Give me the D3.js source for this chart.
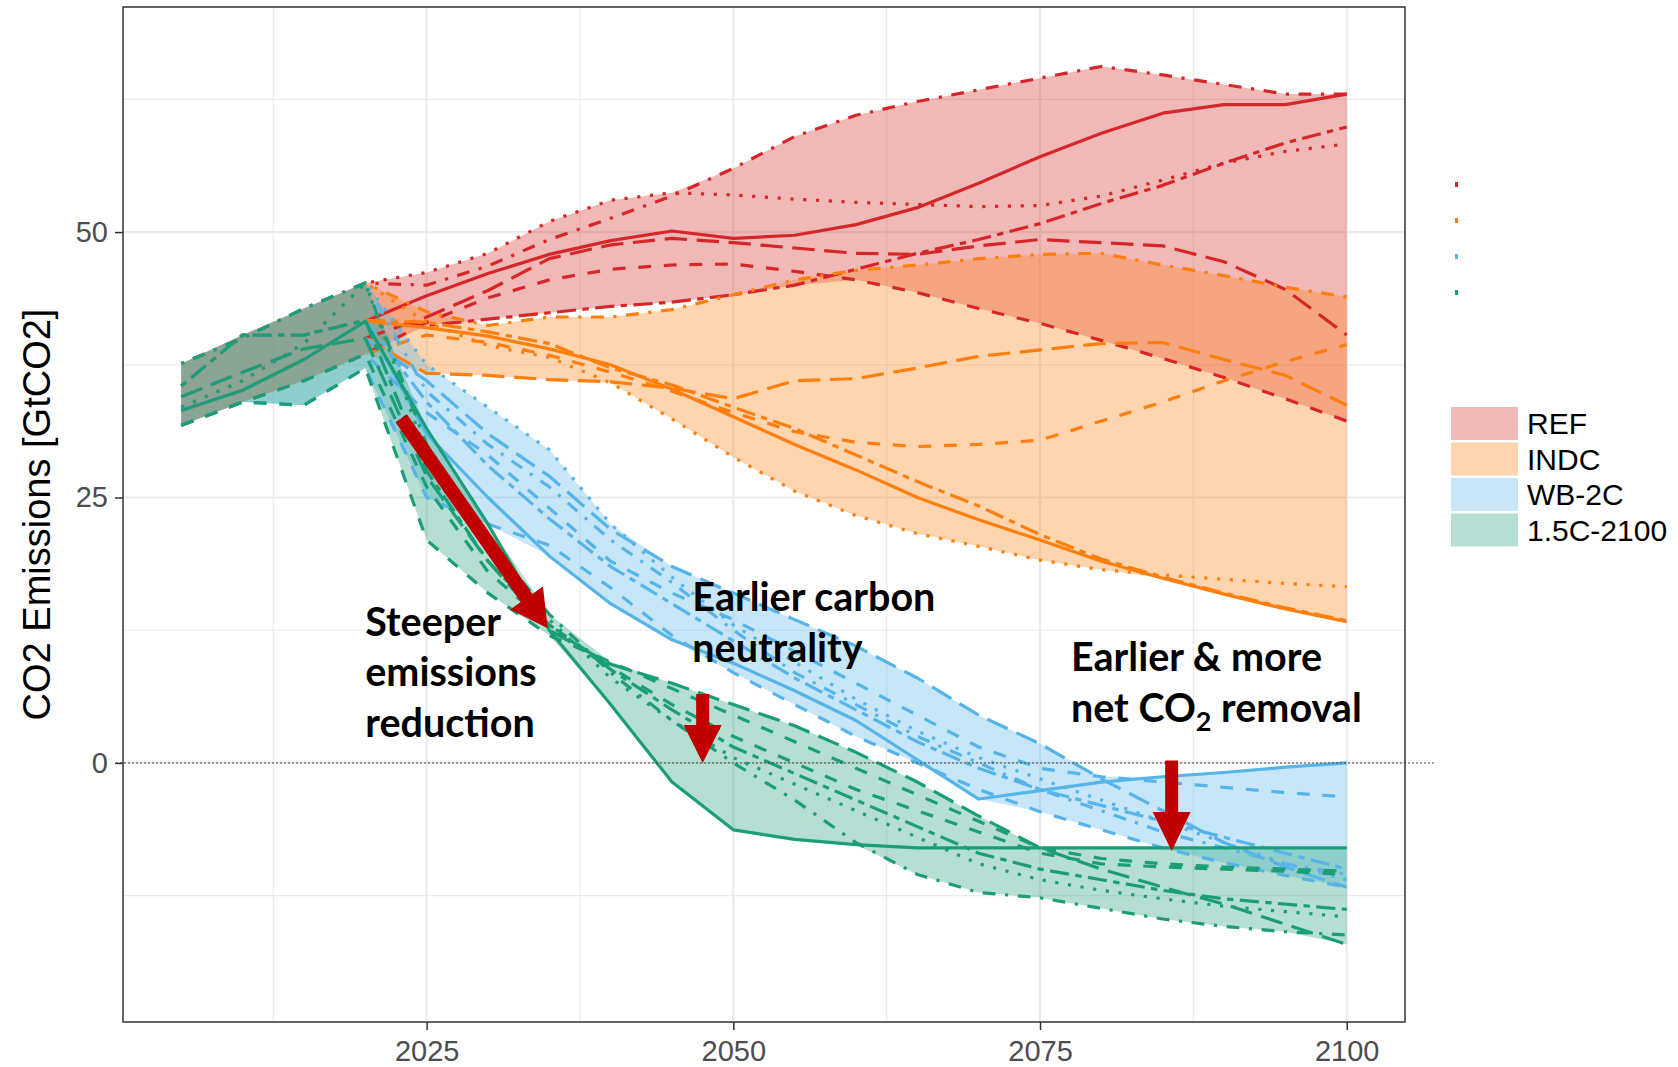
<!DOCTYPE html>
<html><head><meta charset="utf-8">
<script src="https://cdn.jsdelivr.net/npm/d3@7"></script>
<style>body{margin:0;background:#fff;} svg{display:block;}</style>
</head><body>
<svg id="chart" width="1678" height="1067"></svg>
<script>
// ---------------- DATA ----------------
const histYears = [2005, 2010, 2015, 2020];
const projYears = [2025, 2030, 2035, 2040, 2045, 2050, 2055, 2060, 2065, 2070, 2075, 2080, 2085, 2090, 2095, 2100];

const scenarios = ["REF", "INDC", "WB-2C", "1.5C-2100"];
const models = ["A", "B", "C", "D", "E", "F", "G"];

// historical values per model (2005, 2010, 2015, 2020)
const hist_A = [33.2, 35.1, 38.0, 41.6];
const hist_B = [31.8, 34.0, 36.0, 38.5];
const hist_C = [33.5, 36.0, 39.5, 45.2];
const hist_D = [37.6, 40.0, 42.8, 45.2];
const hist_E = [34.5, 36.8, 39.0, 40.0];
const hist_F = [35.5, 40.3, 40.3, 41.7];
const hist_G = [31.8, 34.0, 33.7, 37.2];

// REF
const REF_A = [44.0, 46.1, 47.9, 49.2, 50.1, 49.4, 49.7, 50.7, 52.3, 54.6, 57.1, 59.3, 61.2, 62.0, 62.0, 63.0];
const REF_B = [41.5, 43.8, 45.5, 46.5, 46.9, 47.0, 46.3, 45.5, 44.3, 42.8, 41.4, 39.8, 38.1, 36.3, 34.3, 32.2];
const REF_C = [46.2, 48.0, 51.0, 53.0, 53.7, 53.5, 53.1, 52.8, 52.6, 52.4, 52.5, 53.4, 54.9, 56.5, 57.6, 58.3];
const REF_D = [45.0, 46.8, 49.3, 51.3, 53.4, 56.0, 59.0, 61.0, 62.3, 63.4, 64.5, 65.6, 64.8, 63.9, 63.0, 63.0];
const REF_E = [42.0, 44.5, 47.5, 48.8, 49.4, 49.0, 48.5, 48.0, 47.9, 48.7, 49.3, 49.0, 48.7, 47.2, 44.6, 40.3];
const REF_F = [41.2, 41.8, 42.4, 43.0, 43.4, 44.1, 45.0, 46.5, 48.0, 49.3, 50.8, 52.7, 54.4, 56.5, 58.4, 59.9];

// INDC
const INDC_A = [41.0, 40.2, 39.0, 37.5, 35.2, 32.6, 30.0, 27.6, 25.0, 22.9, 21.0, 19.0, 17.4, 15.9, 14.5, 13.3];
const INDC_B = [40.3, 39.6, 38.4, 36.8, 35.0, 33.0, 31.2, 30.2, 29.8, 30.0, 30.4, 32.2, 34.0, 36.0, 37.8, 39.4];
const INDC_C = [41.5, 39.3, 38.2, 35.8, 32.4, 28.8, 25.6, 23.3, 21.6, 20.4, 19.1, 18.2, 17.7, 17.3, 16.9, 16.6];
const INDC_D = [42.5, 41.2, 42.0, 42.0, 42.7, 44.1, 45.5, 46.4, 46.9, 47.5, 47.9, 48.0, 46.9, 45.9, 44.8, 43.9];
const INDC_E = [36.7, 36.5, 36.1, 35.9, 35.3, 34.3, 36.0, 36.2, 37.2, 38.3, 38.9, 39.5, 39.6, 38.0, 36.5, 33.7];
const INDC_F = [41.5, 40.6, 39.5, 37.2, 35.6, 33.5, 31.5, 29.0, 26.5, 24.2, 21.5, 19.2, 17.5, 16.0, 14.6, 13.4];

// WB-2C
const WB_A = [31.0, 25.0, 19.5, 15.0, 11.6, 9.4, 6.8, 4.0, 0.3, -3.4, -2.6, -1.8, -1.3, -0.9, -0.4, 0.0];
const WB_B = [33.0, 29.0, 24.0, 19.0, 16.0, 13.5, 10.5, 7.5, 4.5, 1.5, -0.5, -1.3, -1.8, -2.3, -2.8, -3.2];
const WB_C = [37.5, 33.5, 29.5, 22.5, 17.5, 13.0, 9.5, 6.0, 3.0, 0.5, -1.5, -3.5, -5.5, -7.5, -9.5, -11.0];
const WB_D = [35.0, 30.0, 26.0, 21.0, 17.0, 12.5, 8.5, 5.5, 2.5, 0.0, -2.5, -4.5, -6.5, -8.0, -9.5, -10.5];
const WB_E = [36.0, 31.0, 27.0, 22.0, 18.5, 16.0, 13.5, 11.0, 8.0, 4.5, 1.8, -1.5, -4.5, -7.5, -9.8, -11.7];
const WB_F = [34.0, 28.0, 23.0, 18.5, 15.0, 11.5, 8.0, 5.0, 2.0, -0.5, -2.5, -4.0, -5.5, -7.0, -8.5, -10.0];
const WB_G = [25.0, 22.5, 20.5, 16.5, 12.0, 8.5, 5.5, 2.5, 0.0, -2.5, -4.6, -6.3, -8.0, -9.4, -10.6, -11.7];

// 1.5C-2100
const C15_A = [31.5, 22.5, 12.5, 5.5, -1.8, -6.3, -7.2, -7.7, -8.0, -8.0, -8.0, -8.0, -8.0, -8.0, -8.0, -8.0];
const C15_B = [26.0, 18.0, 13.0, 9.0, 5.5, 2.5, 0.0, -2.5, -4.5, -6.5, -8.5, -9.5, -9.8, -10.0, -10.2, -10.5];
const C15_C = [29.0, 20.0, 13.5, 8.0, 4.0, 0.5, -2.0, -4.5, -7.0, -9.5, -11.0, -12.0, -12.8, -13.5, -14.0, -14.5];
const C15_D = [30.0, 21.0, 14.0, 8.5, 4.0, 0.0, -3.5, -7.5, -10.5, -12.2, -12.7, -13.7, -14.7, -15.4, -15.9, -16.2];
const C15_E = [27.0, 19.0, 12.5, 9.3, 7.5, 5.5, 3.5, 1.0, -1.8, -5.0, -8.0, -10.0, -11.7, -13.3, -15.2, -17.1];
const C15_F = [27.5, 19.0, 13.0, 8.8, 5.0, 1.5, -1.0, -3.5, -6.0, -8.5, -10.0, -11.0, -12.0, -12.8, -13.3, -13.8];
const C15_G = [21.0, 16.0, 12.0, 9.5, 7.0, 4.5, 2.0, -0.5, -3.0, -5.5, -8.0, -9.0, -9.5, -9.8, -10.0, -10.2];

// axes
const xTicks = [2025, 2050, 2075, 2100];
const xMinor = [2012.5, 2037.5, 2062.5, 2087.5];
const yTicks = [0, 25, 50];
const yMinor = [-12.5, 12.5, 37.5, 62.5];

// annotations (data coordinates)
const annoSteeper = {year: 2020.0, value: 11.96, lines: ["Steeper", "emissions", "reduction"]};
const annoNeutral = {year: 2046.66, value: 14.3, lines: ["Earlier carbon", "neutrality"]};
const annoRemoval = {year: 2077.52, value: 8.7, lines: ["Earlier & more", "net CO"]};
const arrowSteep = [[2022.93, 32.46], [2034.87, 12.68]];
const arrowNeutral = [[2047.5, 6.5], [2047.5, 0]];
const arrowRemoval = [[2085.73, 0.24], [2085.73, -8.3]];

// ---------------- STYLE ----------------
const scenarioColors = ["#d62728", "#ff7f0e", "#56b4e9", "#1b9e77"];
const fillOpacity = 0.33;
const LW = 3.2;
const dashes = {
  solid: null,
  dashed: [4, 4],
  dotted: [1, 3],
  dotdash: [1, 3, 4, 3],
  longdash: [7, 3],
  twodash: [2, 2, 6, 2]
};
const modelLinetype = {A: "solid", B: "dashed", C: "dotted", D: "dotdash", E: "longdash", F: "twodash", G: "dashed"};

const histMap = {A: hist_A, B: hist_B, C: hist_C, D: hist_D, E: hist_E, F: hist_F, G: hist_G};
const projMap = {
  "REF": {A: REF_A, B: REF_B, C: REF_C, D: REF_D, E: REF_E, F: REF_F},
  "INDC": {A: INDC_A, B: INDC_B, C: INDC_C, D: INDC_D, E: INDC_E, F: INDC_F},
  "WB-2C": {A: WB_A, B: WB_B, C: WB_C, D: WB_D, E: WB_E, F: WB_F, G: WB_G},
  "1.5C-2100": {A: C15_A, B: C15_B, C: C15_C, D: C15_D, E: C15_E, F: C15_F, G: C15_G}
};
const allYears = histYears.concat(projYears);

const scen = scenarios.map((name, i) => {
  const lines = models.filter(m => projMap[name][m]).map(m => ({
    model: m,
    lt: modelLinetype[m],
    pts: allYears.map((yr, k) => ({year: yr, value: k < histYears.length ? histMap[m][k] : projMap[name][m][k - histYears.length]}))
  }));
  const band = allYears.map((yr, k) => {
    const vals = lines.map(l => l.pts[k].value);
    return {year: yr, lo: d3.min(vals), hi: d3.max(vals)};
  });
  return {name, color: scenarioColors[i], lines, band};
});

// ---------------- LAYOUT ----------------
const panel = {left: 123, right: 1405, top: 7, bottom: 1022};
const x = d3.scaleLinear().domain([2000.25, 2104.75]).range([panel.left, panel.right]);
const y = d3.scaleLinear().domain([-24.4, 71.2]).range([panel.bottom, panel.top]);

const svg = d3.select("#chart");
svg.append("rect").attr("width", 1678).attr("height", 1067).attr("fill", "#fff");

const grid = svg.append("g");
grid.selectAll(".vmin").data(xMinor).join("line")
  .attr("x1", d => x(d)).attr("x2", d => x(d)).attr("y1", panel.top).attr("y2", panel.bottom)
  .attr("stroke", "#ebebeb").attr("stroke-width", 1.2);
grid.selectAll(".hmin").data(yMinor).join("line")
  .attr("y1", d => y(d)).attr("y2", d => y(d)).attr("x1", panel.left).attr("x2", panel.right)
  .attr("stroke", "#ebebeb").attr("stroke-width", 1.2);
grid.selectAll(".vmaj").data(xTicks).join("line")
  .attr("x1", d => x(d)).attr("x2", d => x(d)).attr("y1", panel.top).attr("y2", panel.bottom)
  .attr("stroke", "#ebebeb").attr("stroke-width", 2.2);
grid.selectAll(".hmaj").data(yTicks).join("line")
  .attr("y1", d => y(d)).attr("y2", d => y(d)).attr("x1", panel.left).attr("x2", panel.right)
  .attr("stroke", "#ebebeb").attr("stroke-width", 2.2);

// ribbons
const area = d3.area().x(d => x(d.year)).y0(d => y(d.lo)).y1(d => y(d.hi));
svg.append("g").selectAll("path").data(scen).join("path")
  .attr("d", d => area(d.band)).attr("fill", d => d.color).attr("fill-opacity", fillOpacity);

// lines
const line = d3.line().x(d => x(d.year)).y(d => y(d.value));
const lg = svg.append("g");
scen.forEach(s => {
  lg.append("g").selectAll("path").data(s.lines).join("path")
    .attr("d", d => line(d.pts))
    .attr("fill", "none")
    .attr("stroke", s.color)
    .attr("stroke-width", LW)
    .attr("stroke-linejoin", "round")
    .attr("stroke-linecap", "butt")
    .attr("stroke-dasharray", d => dashes[d.lt] ? dashes[d.lt].map(v => v * LW).join(",") : null);
});

// zero dotted line
svg.append("line")
  .attr("x1", panel.left - 7).attr("x2", panel.right + 29)
  .attr("y1", y(0)).attr("y2", y(0))
  .attr("stroke", "#444").attr("stroke-width", 1).attr("stroke-dasharray", "2,2");

// panel border
svg.append("rect").attr("x", panel.left).attr("y", panel.top)
  .attr("width", panel.right - panel.left).attr("height", panel.bottom - panel.top)
  .attr("fill", "none").attr("stroke", "#333").attr("stroke-width", 1.5);

// axes
const tickFont = "29px 'Liberation Sans', Arial, sans-serif";
svg.append("g").attr("transform", `translate(0,${panel.bottom})`)
  .call(d3.axisBottom(x).tickValues(xTicks).tickSize(8).tickPadding(10).tickFormat(d3.format("d")))
  .call(g => g.select(".domain").remove())
  .call(g => g.selectAll("line").attr("stroke", "#333").attr("stroke-width", 1.5))
  .call(g => g.selectAll("text").attr("fill", "#4d4d4d").style("font", tickFont));
svg.append("g").attr("transform", `translate(${panel.left},0)`)
  .call(d3.axisLeft(y).tickValues(yTicks).tickSize(8).tickPadding(7))
  .call(g => g.select(".domain").remove())
  .call(g => g.selectAll("line").attr("stroke", "#333").attr("stroke-width", 1.5))
  .call(g => g.selectAll("text").attr("fill", "#4d4d4d").style("font", tickFont));

svg.append("text")
  .attr("transform", `translate(50,${(panel.top + panel.bottom) / 2}) rotate(-90)`)
  .attr("text-anchor", "middle")
  .style("font", "38px 'Liberation Sans', Arial, sans-serif")
  .attr("fill", "#000")
  .text("CO2 Emissions [GtCO2]");

// legend: tiny linetype marks
const legMarks = svg.append("g");
legMarks.selectAll("rect").data(scen).join("rect")
  .attr("x", 1455).attr("y", (d, i) => 182 + i * 36)
  .attr("width", 3).attr("height", 5).attr("fill", d => d.color);

// legend: fill keys
const leg = svg.append("g").attr("transform", "translate(1451,407)");
const keys = leg.selectAll("g").data(scen).join("g").attr("transform", (d, i) => `translate(0,${i * 35.5})`);
keys.append("rect").attr("width", 67).attr("height", 33).attr("fill", d => d.color).attr("fill-opacity", fillOpacity);
keys.append("text").attr("x", 76).attr("y", 16.5).attr("dy", "0.36em")
  .style("font", "30px 'Liberation Sans', Arial, sans-serif").attr("fill", "#000")
  .text(d => d.name);

// arrows
function arrowPath(p0, p1, w, hl, hw) {
  const dx = p1[0] - p0[0], dy = p1[1] - p0[1];
  const L = Math.hypot(dx, dy), ux = dx / L, uy = dy / L, nx = -uy, ny = ux;
  const bx = p1[0] - ux * hl, by = p1[1] - uy * hl;
  const pts = [
    [p0[0] + nx * w / 2, p0[1] + ny * w / 2],
    [bx + nx * w / 2, by + ny * w / 2],
    [bx + nx * hw / 2, by + ny * hw / 2],
    p1,
    [bx - nx * hw / 2, by - ny * hw / 2],
    [bx - nx * w / 2, by - ny * w / 2],
    [p0[0] - nx * w / 2, p0[1] - ny * w / 2]
  ];
  return "M" + pts.map(p => p.join(",")).join("L") + "Z";
}
const toPx = p => [x(p[0]), y(p[1])];
svg.append("path").attr("d", arrowPath(toPx(arrowSteep[0]), toPx(arrowSteep[1]), 14, 37, 40)).attr("fill", "#c00000");
svg.append("path").attr("d", arrowPath(toPx(arrowNeutral[0]), toPx(arrowNeutral[1]), 13, 38, 38)).attr("fill", "#c00000");
svg.append("path").attr("d", arrowPath(toPx(arrowRemoval[0]), toPx(arrowRemoval[1]), 13, 39, 38)).attr("fill", "#c00000");

// annotation text
const annoFont = "bold 39.5px Lato, 'Open Sans', sans-serif";
function anno(a, lh) {
  const t = svg.append("text").attr("x", x(a.year)).attr("y", y(a.value))
    .style("font", annoFont).attr("fill", "#000");
  a.lines.forEach((s, i) => {
    t.append("tspan").attr("x", x(a.year)).attr("dy", i === 0 ? 0 : lh).text(s);
  });
  return t;
}
anno(annoSteeper, 50.5);
anno(annoNeutral, 51);
const tr = anno(annoRemoval, 51.5);
tr.append("tspan").attr("dy", 9).style("font-size", "27px").text("2");
tr.append("tspan").attr("dy", -9).text(" removal");
</script>
</body></html>
